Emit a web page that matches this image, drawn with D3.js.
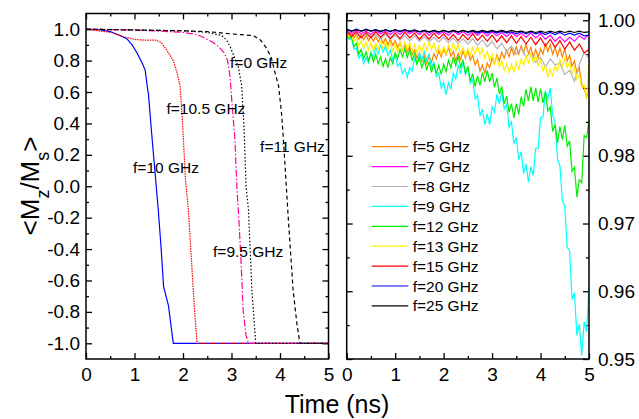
<!DOCTYPE html>
<html lang="en">
<head>
<meta charset="UTF-8">
<title>Mz switching</title>
<script src="https://cdn.jsdelivr.net/npm/d3@7/dist/d3.min.js"></script>
<style>
  body { margin: 0; background: #fff; }
  svg { font-family: "Liberation Sans", Arial, sans-serif; }
  .frame { fill: none; stroke: #000; stroke-width: 1.5; }
  .axis path { display: none; }
  .axis line { stroke: #000; stroke-width: 1.3; }
  .axis text { font-size: 19px; fill: #000; font-family: "Liberation Sans", Arial, sans-serif; }
  .curve { fill: none; stroke-width: 1.2; }
</style>
</head>
<body>
<svg width="639" height="419"></svg>
<script>
// ---- left panel: switching curves (t in ns, <Mz/Ms>) ----
const f10T = [0, 0.3, 0.5, 0.7, 0.84, 0.95, 1.05, 1.15, 1.22, 1.27, 1.29, 1.35, 1.42, 1.49, 1.55, 1.6, 1.7, 1.8, 5];
const f10M = [1.0, 0.995, 0.985, 0.96, 0.94, 0.9, 0.85, 0.79, 0.74, 0.62, 0.58, 0.35, 0.1, -0.15, -0.4, -0.64, -0.76, -1.0, -1.0];
const f105T = [0, 0.5, 0.8, 1.0, 1.2, 1.45, 1.55, 1.66, 1.8, 1.88, 1.94, 1.97, 2.0, 2.05, 2.11, 2.18, 2.24, 2.29, 5];
const f105M = [1.0, 0.98, 0.95, 0.935, 0.93, 0.93, 0.915, 0.87, 0.8, 0.72, 0.64, 0.5, 0.35, 0.05, -0.15, -0.5, -0.8, -1.0, -1.0];
const f95T = [0, 1, 2, 2.3, 2.6, 2.73, 2.85, 2.92, 2.97, 3.0, 3.07, 3.11, 3.15, 3.2, 3.24, 3.3, 3.35, 5];
const f95M = [1.0, 0.995, 0.98, 0.965, 0.92, 0.89, 0.85, 0.8, 0.7, 0.57, 0.3, 0.0, -0.2, -0.5, -0.79, -0.95, -1.0, -1.0];
const f0T = [0, 1, 2, 2.5, 2.8, 2.9, 2.97, 3.05, 3.14, 3.21, 3.26, 3.3, 3.35, 3.42, 3.5, 5];
const f0M = [1.0, 0.995, 0.99, 0.98, 0.96, 0.93, 0.89, 0.83, 0.76, 0.64, 0.36, 0.0, -0.15, -0.66, -1.0, -1.0];
const f11T = [0, 1, 2, 2.5, 3.0, 3.2, 3.45, 3.6, 3.72, 3.82, 3.9, 3.97, 4.03, 4.07, 4.12, 4.17, 4.27, 4.35, 4.41, 5];
const f11M = [1.0, 0.995, 0.99, 0.985, 0.97, 0.965, 0.96, 0.93, 0.88, 0.82, 0.72, 0.64, 0.47, 0.3, 0.05, -0.2, -0.66, -0.88, -1.0, -1.0];

// ---- right panel: non-switching curves ----
// fine series sampled every 0.05 ns, coarse ones every 0.1 ns
const f9 = [0.9984,0.9972,0.9973,0.9957,0.9959,0.9944,0.9950,0.9936,0.9945,0.9937,
  0.9952,0.9946,0.9960,0.9951,0.9963,0.9953,0.9962,0.9948,0.9956,0.9942,
  0.9949,0.9932,0.9937,0.9921,0.9928,0.9916,0.9930,0.9925,0.9943,0.9936,
  0.9951,0.9941,0.9954,0.9941,0.9950,0.9931,0.9938,0.9917,0.9922,0.9900,
  0.9908,0.9890,0.9908,0.9898,0.9922,0.9913,0.9934,0.9921,0.9938,0.9920,
  0.9931,0.9907,0.9913,0.9884,0.9889,0.9859,0.9869,0.9846,0.9862,0.9846,
  0.9872,0.9864,0.9891,0.9877,0.9894,0.9869,0.9876,0.9842,0.9850,0.9818,
  0.9827,0.9794,0.9806,0.9774,0.9788,0.9761,0.9784,0.9771,0.9811,0.9811,
  0.9856,0.9857,0.9896,0.9884,0.9900,0.9860,0.9850,0.9795,0.9785,0.9735,
  0.9725,0.9665,0.9660,0.9588,0.9598,0.9535,0.9552,0.9505,0.9555,0.9540,0.9608];
const f12 = [0.9984,0.9973,0.9976,0.9961,0.9966,0.9950,0.9957,0.9943,0.9953,0.9940,
  0.9952,0.9939,0.9950,0.9936,0.9946,0.9932,0.9943,0.9930,0.9945,0.9936,
  0.9952,0.9943,0.9957,0.9946,0.9958,0.9945,0.9956,0.9941,0.9950,0.9935,
  0.9945,0.9930,0.9942,0.9926,0.9939,0.9923,0.9936,0.9921,0.9934,0.9920,
  0.9935,0.9924,0.9941,0.9930,0.9946,0.9933,0.9947,0.9931,0.9942,0.9922,
  0.9932,0.9910,0.9921,0.9902,0.9918,0.9904,0.9923,0.9909,0.9926,0.9909,
  0.9922,0.9901,0.9915,0.9891,0.9902,0.9877,0.9888,0.9864,0.9877,0.9856,
  0.9877,0.9861,0.9887,0.9873,0.9898,0.9881,0.9902,0.9881,0.9900,0.9879,
  0.9899,0.9878,0.9894,0.9866,0.9872,0.9836,0.9846,0.9819,0.9843,0.9824,
  0.9845,0.9814,0.9822,0.9777,0.9783,0.9739,0.9765,0.9760,0.9830,0.9827,0.9852];
const f13 = [0.9984,0.9976,0.9978,0.9968,0.9974,0.9962,0.9970,0.9958,0.9968,0.9956,
  0.9967,0.9955,0.9966,0.9957,0.9968,0.9958,0.9969,0.9957,0.9967,0.9954,
  0.9965,0.9953,0.9966,0.9956,0.9968,0.9957,0.9967,0.9954,0.9964,0.9952,
  0.9963,0.9953,0.9966,0.9956,0.9968,0.9957,0.9966,0.9953,0.9962,0.9950,
  0.9961,0.9951,0.9963,0.9954,0.9966,0.9955,0.9964,0.9951,0.9960,0.9947,
  0.9958,0.9948,0.9960,0.9950,0.9961,0.9949,0.9958,0.9944,0.9954,0.9940,
  0.9950,0.9936,0.9946,0.9931,0.9940,0.9926,0.9936,0.9923,0.9935,0.9924,
  0.9938,0.9928,0.9943,0.9934,0.9948,0.9937,0.9950,0.9938,0.9948,0.9933,
  0.9941,0.9925,0.9933,0.9917,0.9927,0.9918,0.9932,0.9925,0.9942,0.9932,
  0.9944,0.9930,0.9938,0.9921,0.9930,0.9913,0.9920,0.9900,0.9905,0.9885,0.9936];
const f5 = [0.9984,0.9976,0.9982,0.9974,0.9980,0.9972,0.9979,0.9971,0.9978,0.9970,
  0.9977,0.9969,0.9976,0.9968,0.9975,0.9966,0.9973,0.9964,0.9972,0.9963,
  0.9970,0.9960,0.9967,0.9956,0.9964,0.9953,0.9961,0.9949,0.9956,0.9944,
  0.9952,0.9940,0.9948,0.9936,0.9947,0.9938,0.9951,0.9943,0.9955,0.9946,
  0.9958,0.9949,0.9960,0.9947,0.9954,0.9940,0.9951,0.9942,0.9955,0.9944,
  0.9956,0.9941,0.9948,0.9934,0.9942,0.9925,0.9934,0.9922,0.9937,0.9930,
  0.9944,0.9936,0.9949,0.9940,0.9953,0.9944,0.9956,0.9946,0.9959,0.9949,
  0.9961,0.9950,0.9962,0.9952,0.9964,0.9951,0.9960,0.9946,0.9957,0.9945,
  0.9958,0.9950,0.9965,0.9954,0.9964,0.9950,0.9960,0.9947,0.9959,0.9946,
  0.9958,0.9940,0.9948,0.9932,0.9940,0.9922,0.9930,0.9905,0.9900,0.9886,0.9898];
const f8 = [0.9983,0.9977,0.9981,0.9975,0.9980,0.9974,0.9979,0.9973,0.9979,0.9972,
  0.9978,0.9971,0.9977,0.9970,0.9977,0.9969,0.9976,0.9968,0.9975,0.9968,
  0.9975,0.9967,0.9974,0.9966,0.9973,0.9965,0.9973,0.9963,0.9971,0.9961,
  0.9969,0.9958,0.9966,0.9954,0.9962,0.9950,0.9959,0.9946,0.9952,0.9938,
  0.9945,0.9931,0.9943,0.9934,0.9937,0.9920,0.9926,0.9910,0.9935,0.9952,0.9944];
const f15 = [0.9984,0.9976,0.9983,0.9974,0.9982,0.9974,0.9983,0.9975,0.9982,0.9973,
  0.9981,0.9973,0.9982,0.9974,0.9981,0.9972,0.9980,0.9972,0.9981,0.9973,
  0.9980,0.9971,0.9979,0.9970,0.9979,0.9971,0.9980,0.9970,0.9978,0.9969,
  0.9978,0.9968,0.9977,0.9967,0.9977,0.9966,0.9976,0.9965,0.9975,0.9964,
  0.9974,0.9962,0.9972,0.9960,0.9970,0.9957,0.9968,0.9956,0.9965,0.9952,0.9957];
const f7 = [0.9985,0.9980,0.9985,0.9980,0.9984,0.9979,0.9985,0.9980,0.9984,0.9979,
  0.9984,0.9979,0.9985,0.9980,0.9984,0.9979,0.9984,0.9978,0.9984,0.9979,
  0.9983,0.9978,0.9984,0.9979,0.9983,0.9978,0.9983,0.9978,0.9983,0.9977,
  0.9983,0.9977,0.9982,0.9976,0.9982,0.9976,0.9981,0.9975,0.9981,0.9974,
  0.9980,0.9972,0.9978,0.9969,0.9976,0.9968,0.9975,0.9969,0.9977,0.9972,0.9979];
const f20 = [0.9987,0.9984,0.9987,0.9984,0.9987,0.9984,0.9986,0.9983,0.9986,0.9983,
  0.9986,0.9983,0.9986,0.9983,0.9986,0.9983,0.9985,0.9982,0.9985,0.9982,
  0.9985,0.9982,0.9985,0.9982,0.9985,0.9982,0.9984,0.9981,0.9984,0.9981,
  0.9984,0.9981,0.9984,0.9981,0.9983,0.9980,0.9983,0.9980,0.9983,0.9980,
  0.9982,0.9979,0.9982,0.9979,0.9982,0.9978,0.9981,0.9978,0.9981,0.9977,0.9978];
const f25 = [0.9986,0.9984,0.9986,0.9984,0.9986,0.9984,0.9986,0.9984,0.9986,0.9984,
  0.9986,0.9984,0.9986,0.9984,0.9985,0.9983,0.9985,0.9983,0.9985,0.9983,
  0.9985,0.9983,0.9985,0.9983,0.9985,0.9983,0.9985,0.9983,0.9985,0.9983,
  0.9985,0.9983,0.9985,0.9983,0.9985,0.9983,0.9984,0.9982,0.9984,0.9982,
  0.9984,0.9982,0.9984,0.9982,0.9984,0.9982,0.9984,0.9982,0.9984,0.9982,0.9983];

const timeTicks = [0, 1, 2, 3, 4, 5];
const timeMinor = [0.5, 1.5, 2.5, 3.5, 4.5];
const leftTicks = [-1.0, -0.8, -0.6, -0.4, -0.2, 0.0, 0.2, 0.4, 0.6, 0.8, 1.0];
const leftMinor = [-0.9, -0.7, -0.5, -0.3, -0.1, 0.1, 0.3, 0.5, 0.7, 0.9];
const rightTicks = [0.95, 0.96, 0.97, 0.98, 0.99, 1.00];
const rightMinor = [0.955, 0.965, 0.975, 0.985, 0.995];

const svg = d3.select('svg');
const plotTop = 13.5, plotBottom = 359;

function pairs(ts, vs) { return ts.map((t, i) => [t, vs[i]]); }
const fine = d3.range(101).map(i => i * 0.05);
const coarse = d3.range(51).map(i => i * 0.1);

function frame(x, y, name, yMajor, yMinor, fmt, labelSide) {
  const g = svg.append('g');
  const [x0, x1] = x.range();
  g.append('clipPath').attr('id', name).append('rect')
    .attr('x', x0).attr('y', plotTop).attr('width', x1 - x0).attr('height', plotBottom - plotTop);

  const ax = (gen, tr) => g.append('g').attr('class', 'axis').attr('transform', tr).call(gen);
  ax(d3.axisBottom(x).tickValues(timeTicks).tickSize(-6).tickPadding(9).tickFormat(d3.format('d')), `translate(0,${plotBottom})`);
  ax(d3.axisBottom(x).tickValues(timeMinor).tickSize(-3).tickFormat(''), `translate(0,${plotBottom})`);
  ax(d3.axisTop(x).tickValues(timeTicks).tickSize(-6).tickFormat(''), `translate(0,${plotTop})`);
  ax(d3.axisTop(x).tickValues(timeMinor).tickSize(-3).tickFormat(''), `translate(0,${plotTop})`);

  const lf = labelSide === 'left' ? fmt : () => '';
  const rf = labelSide === 'right' ? fmt : () => '';
  ax(d3.axisLeft(y).tickValues(yMajor).tickSize(-6).tickPadding(6).tickFormat(lf), `translate(${x0},0)`);
  ax(d3.axisLeft(y).tickValues(yMinor).tickSize(-3).tickFormat(''), `translate(${x0},0)`);
  ax(d3.axisRight(y).tickValues(yMajor).tickSize(-6).tickPadding(9).tickFormat(rf), `translate(${x1},0)`);
  ax(d3.axisRight(y).tickValues(yMinor).tickSize(-3).tickFormat(''), `translate(${x1},0)`);

  const plot = svg.append('g').attr('clip-path', `url(#${name})`);
  svg.append('rect').attr('class', 'frame')
    .attr('x', x0).attr('y', plotTop).attr('width', x1 - x0).attr('height', plotBottom - plotTop);
  return plot;
}

// ---------- left panel ----------
const xL = d3.scaleLinear().domain([0, 5]).range([86, 328.5]);
const yL = d3.scaleLinear().domain([-1.1, 1.1]).range([plotBottom, plotTop]);
const left = frame(xL, yL, 'clipL', leftTicks, leftMinor, d => d.toFixed(1), 'left');
const lineL = d3.line().x(d => xL(d[0])).y(d => yL(d[1]));

const leftSeries = [
  { d: pairs(f10T, f10M), color: '#0000ff', dash: null },
  { d: pairs(f105T, f105M), color: '#ff0000', dash: '1.5,1' },
  { d: pairs(f95T, f95M), color: '#ff0099', dash: '7,2,1.5,2' },
  { d: pairs(f0T, f0M), color: '#000000', dash: '1.5,2' },
  { d: pairs(f11T, f11M), color: '#000000', dash: '4,3' }
];
leftSeries.forEach(s => {
  left.append('path').attr('class', 'curve').attr('d', lineL(s.d))
    .attr('stroke', s.color).attr('stroke-dasharray', s.dash);
});

const leftLabels = [
  { t: 2.97, m: 0.756, text: 'f=0 GHz' },
  { t: 1.66, m: 0.457, text: 'f=10.5 GHz' },
  { t: 3.59, m: 0.215, text: 'f=11 GHz' },
  { t: 0.97, m: 0.087, text: 'f=10 GHz' },
  { t: 2.62, m: -0.448, text: 'f=9.5 GHz' }
];
svg.selectAll('.flab').data(leftLabels).enter().append('text')
  .attr('x', d => xL(d.t)).attr('y', d => yL(d.m))
  .style('font-size', '15.5px').text(d => d.text);

// ---------- right panel ----------
const xR = d3.scaleLinear().domain([0, 5]).range([346.7, 589]);
const yR = d3.scaleLinear().domain([0.95, 1.001]).range([plotBottom, plotTop]);
const right = frame(xR, yR, 'clipR', rightTicks, rightMinor, d => d.toFixed(2), 'right');
const lineR = d3.line().x(d => xR(d[0])).y(d => yR(d[1]));

const rightSeries = [
  { name: 'f=5 GHz', v: f5, t: fine, color: '#ff8000' },
  { name: 'f=7 GHz', v: f7, t: coarse, color: '#ff00ff' },
  { name: 'f=8 GHz', v: f8, t: coarse, color: '#b4b4b4' },
  { name: 'f=9 GHz', v: f9, t: fine, color: '#00ffff' },
  { name: 'f=12 GHz', v: f12, t: fine, color: '#00ee00' },
  { name: 'f=13 GHz', v: f13, t: fine, color: '#ffee00' },
  { name: 'f=15 GHz', v: f15, t: coarse, color: '#ff0000' },
  { name: 'f=20 GHz', v: f20, t: coarse, color: '#0000ff' },
  { name: 'f=25 GHz', v: f25, t: coarse, color: '#000000' }
];
rightSeries.forEach(s => {
  right.append('path').attr('class', 'curve').attr('d', lineR(pairs(s.t, s.v)))
    .attr('stroke', s.color);
});

const leg = svg.append('g');
rightSeries.forEach((s, i) => {
  const yy = 146.7 + i * 19.9;
  leg.append('line').attr('x1', 371.7).attr('x2', 408.3).attr('y1', yy).attr('y2', yy)
    .attr('stroke', s.color).attr('stroke-width', 1.2);
  leg.append('text').attr('x', 412.7).attr('y', yy + 5.5)
    .style('font-size', '15.5px').text(s.name);
});

// ---------- axis titles ----------
svg.append('text').attr('x', 337).attr('y', 413).attr('text-anchor', 'middle')
  .style('font-size', '25px').text('Time (ns)');

const yt = svg.append('text').attr('transform', 'translate(39,186) rotate(-90)')
  .attr('text-anchor', 'middle').style('font-size', '26px');
yt.append('tspan').text('<M');
yt.append('tspan').attr('baseline-shift', 'sub').style('font-size', '18px').text('z');
yt.append('tspan').text('/M');
yt.append('tspan').attr('baseline-shift', 'sub').style('font-size', '18px').text('s');
yt.append('tspan').text('>');
</script>
</body>
</html>
